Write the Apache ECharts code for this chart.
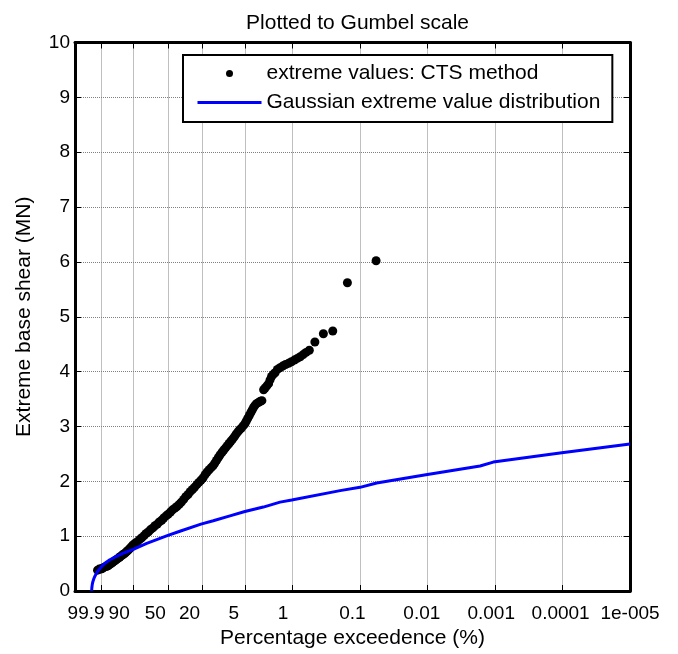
<!DOCTYPE html>
<html>
<head>
<meta charset="utf-8">
<title>Plotted to Gumbel scale</title>
<script src="https://cdn.jsdelivr.net/npm/echarts@6/dist/echarts.min.js"></script>
<style>
  html, body { margin: 0; padding: 0; background: #fff; }
  #chart { width: 678px; height: 654px; }
</style>
</head>
<body>
<div id="chart"></div>
<script>
// x axis: percentage exceedence, drawn on the Gumbel reduced variate
const tickPercents = [99.9, 90, 50, 20, 5, 1, 0.1, 0.01, 0.001, 0.0001, 0.00001];
const tickLabels = ['99.9', '90', '50', '20', '5', '1', '0.1', '0.01', '0.001', '0.0001', '1e-005'];

// extreme values, CTS method (x = Gumbel reduced variate, y = MN)
const ctsX = [
  -2.06, -2.00, -1.95, -1.90, -1.85, -1.80, -1.75, -1.70, -1.65, -1.60,
  -1.55, -1.50, -1.45, -1.40, -1.35, -1.30, -1.25, -1.20, -1.15, -1.10,
  -1.05, -1.00, -0.95, -0.90, -0.85, -0.78, -0.70, -0.62, -0.55, -0.47,
  -0.40, -0.32, -0.25, -0.17, -0.10, -0.02, 0.05, 0.13, 0.20, 0.28,
  0.35, 0.43, 0.50, 0.58, 0.65, 0.73, 0.80, 0.88, 0.95, 1.03,
  1.10, 1.18, 1.25, 1.33, 1.40, 1.47, 1.54, 1.61, 1.68, 1.75,
  1.82, 1.88, 1.94, 2.00, 2.06, 2.12, 2.19, 2.25, 2.31, 2.37,
  2.43, 2.49, 2.55, 2.61, 2.67, 2.73, 2.79, 2.85, 2.91, 2.97,
  3.02, 3.07, 3.12, 3.17, 3.22, 3.27, 3.32, 3.38, 3.44, 3.50,
  3.55, 3.61, 3.66, 3.72, 3.78, 3.83, 3.88, 3.94, 4.00, 4.08,
  4.17, 4.26, 4.36, 4.46, 4.56, 4.66, 4.76, 4.86, 4.96, 5.06,
  5.17, 5.36, 5.65, 5.97, 6.47, 7.45
];
const ctsY = [
  0.38, 0.40, 0.40, 0.41, 0.43, 0.44, 0.45, 0.46, 0.48, 0.50,
  0.52, 0.54, 0.56, 0.58, 0.60, 0.62, 0.64, 0.66, 0.68, 0.70,
  0.73, 0.75, 0.78, 0.81, 0.84, 0.87, 0.90, 0.94, 0.97, 1.01,
  1.05, 1.08, 1.12, 1.15, 1.19, 1.22, 1.26, 1.29, 1.33, 1.37,
  1.40, 1.44, 1.48, 1.51, 1.54, 1.58, 1.62, 1.67, 1.72, 1.76,
  1.81, 1.85, 1.89, 1.94, 1.98, 2.02, 2.06, 2.12, 2.17, 2.21,
  2.25, 2.28, 2.33, 2.38, 2.43, 2.48, 2.53, 2.57, 2.61, 2.65,
  2.69, 2.73, 2.77, 2.81, 2.86, 2.90, 2.94, 2.97, 3.01, 3.05,
  3.10, 3.15, 3.20, 3.25, 3.30, 3.35, 3.39, 3.42, 3.44, 3.46,
  3.47, 3.67, 3.70, 3.74, 3.78, 3.85, 3.91, 3.95, 3.98, 4.04,
  4.07, 4.10, 4.13, 4.15, 4.18, 4.21, 4.24, 4.27, 4.31, 4.35,
  4.39, 4.54, 4.69, 4.74, 5.62, 6.02
];

// Gaussian extreme value distribution
const gaussX = [
  -2.261, -2.255, -2.24, -2.22, -2.19, -2.15, -2.09, -2.01, -1.92, -1.80,
  -1.64, -1.42, -1.18, -0.84, -0.38, 0.32, 0.75, 1.47, 1.89, 2.46,
  2.97, 3.60, 4.17, 4.57, 6.22, 6.90, 7.47, 9.15, 11.00, 11.45,
  13.79, 16.118
];
const gaussY = [
  0.00, 0.06, 0.12, 0.17, 0.22, 0.27, 0.33, 0.39, 0.45, 0.51,
  0.57, 0.63, 0.69, 0.76, 0.87, 1.01, 1.09, 1.22, 1.28, 1.37,
  1.45, 1.53, 1.62, 1.66, 1.83, 1.89, 1.97, 2.12, 2.28, 2.35,
  2.52, 2.68
];

(function() {
  const FONT = '"Liberation Sans", Arial, Helvetica, sans-serif';
  const gumbel = p => -Math.log(-Math.log(1 - p / 100));
  const tickVals = tickPercents.map(gumbel);
  const xMin = -2.83;
  const xMax = tickVals[tickVals.length - 1];
  const labelAxisMin = -2.3;   // tick labels sit a little left of their ticks in the original

  const labelFor = v => {
    const i = tickVals.findIndex(t => Math.abs(t - v) < 1e-6);
    return i < 0 ? '' : tickLabels[i];
  };

  const boxLine = { show: true, onZero: false, lineStyle: { color: '#000', width: 3 } };
  const innerTick = extra => Object.assign({
    show: true, inside: true, length: 6, lineStyle: { color: '#000', width: 1 }
  }, extra);
  const gridStyle = { type: 'dotted', color: '#808080', width: 1 };
  const nameStyle = { fontFamily: FONT, fontSize: 21, color: '#000' };

  const chart = echarts.init(document.getElementById('chart'));

  chart.setOption({
    animation: false,
    backgroundColor: '#fff',
    title: {
      text: 'Plotted to Gumbel scale',
      left: 352.5,
      top: 8,
      textAlign: 'center',
      textStyle: { fontFamily: FONT, fontSize: 21, fontWeight: 'normal', color: '#000' }
    },
    grid: { left: 75, right: 48, top: 42.5, bottom: 59 },
    legend: {
      orient: 'vertical',
      left: 183,
      top: 55,
      padding: [8, 12, 9, 13],
      itemWidth: 64,
      itemHeight: 7,
      itemGap: 8,
      backgroundColor: '#fff',
      borderColor: '#000',
      borderWidth: 2,
      textStyle: { fontFamily: FONT, fontSize: 21, color: '#000' },
      data: [
        { name: 'extreme values: CTS method', icon: 'circle', itemStyle: { color: '#000', opacity: 1 } },
        // line only, no marker in the middle
        { name: 'Gaussian extreme value distribution', itemStyle: { opacity: 0 },
          lineStyle: { color: '#0000ff', width: 3, opacity: 1 } }
      ]
    },
    xAxis: [
      {
        type: 'value', position: 'bottom', min: xMin, max: xMax,
        axisLine: boxLine,
        axisTick: innerTick({ customValues: tickVals }),
        axisLabel: { show: false },
        splitLine: { show: true, lineStyle: gridStyle },
        name: 'Percentage exceedence (%)',
        nameLocation: 'middle',
        nameGap: 37,
        nameTextStyle: nameStyle
      },
      {
        type: 'value', position: 'bottom', min: labelAxisMin, max: xMax,
        axisLine: { show: false },
        axisTick: { show: false },
        splitLine: { show: false },
        axisLabel: {
          customValues: tickVals,
          formatter: labelFor,
          margin: 13,
          fontFamily: FONT, fontSize: 19, color: '#000'
        }
      },
      {
        type: 'value', position: 'top', min: xMin, max: xMax,
        axisLine: boxLine,
        axisTick: innerTick({ customValues: tickVals }),
        axisLabel: { show: false },
        splitLine: { show: false }
      }
    ],
    yAxis: [
      {
        type: 'value', position: 'left', min: 0, max: 10, interval: 1,
        axisLine: boxLine,
        axisTick: innerTick({}),
        axisLabel: { margin: 5, fontFamily: FONT, fontSize: 19, color: '#000' },
        splitLine: { show: true, lineStyle: gridStyle },
        name: 'Extreme base shear (MN)',
        nameLocation: 'middle',
        nameGap: 40,
        nameTextStyle: nameStyle
      },
      {
        type: 'value', position: 'right', min: 0, max: 10, interval: 1,
        axisLine: boxLine,
        axisTick: innerTick({}),
        axisLabel: { show: false },
        splitLine: { show: false }
      }
    ],
    series: [
      {
        name: 'extreme values: CTS method',
        type: 'scatter',
        xAxisIndex: 0, yAxisIndex: 0,
        symbol: 'circle',
        symbolSize: 9,
        itemStyle: { color: '#000', opacity: 1 },
        emphasis: { disabled: true },
        data: ctsX.map((x, i) => [x, ctsY[i]])
      },
      {
        name: 'Gaussian extreme value distribution',
        type: 'line',
        xAxisIndex: 0, yAxisIndex: 0,
        symbol: 'none',
        lineStyle: { color: '#0000ff', width: 3 },
        itemStyle: { color: '#0000ff' },
        emphasis: { disabled: true },
        data: gaussX.map((x, i) => [x, gaussY[i]])
      }
    ]
  });

  window.addEventListener('resize', () => chart.resize());
})();
</script>
</body>
</html>
